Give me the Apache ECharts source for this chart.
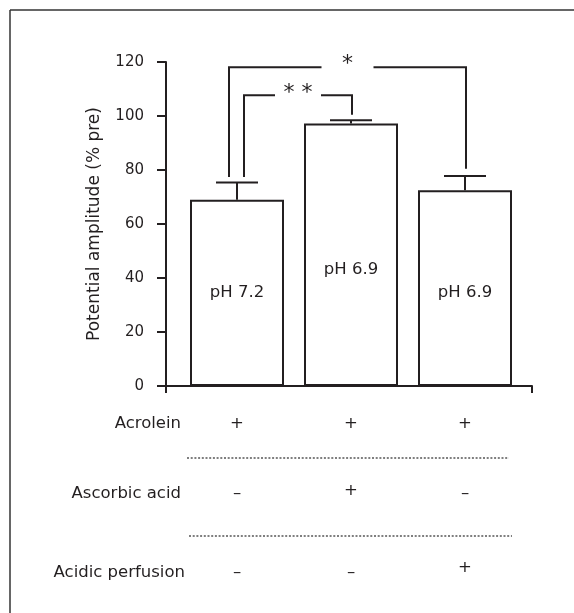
<!DOCTYPE html>
<html>
<head>
<meta charset="utf-8">
<script src="https://cdn.jsdelivr.net/npm/echarts@6/dist/echarts.min.js"></script>
<style>
html,body{margin:0;padding:0;background:#fff;}
#chart{width:574px;height:613px;}
</style>
</head>
<body>
<div id="chart"></div>
<script>
// ---- data ----
const categories = ['Group 1', 'Group 2', 'Group 3'];
const barValues = [69.0, 97.2, 72.5];
const errUpper = [75.4, 98.4, 77.8];
const barLabels = ['pH 7.2', 'pH 6.9', 'pH 6.9'];
const yMin = 0, yMax = 120, yStep = 20;
const yAxisName = 'Potential amplitude (% pre)';

const rowNames = ['Acrolein', 'Ascorbic acid', 'Acidic perfusion'];
const acroleinRow = ['+', '+', '+'];
const ascorbicRow = ['–', '+', '–'];
const acidicRow = ['–', '–', '+'];

const bracketFrom = [0, 0];
const bracketTo = [2, 1];
const bracketY = [118.1, 107.7];
const bracketLeftEnd = [77.4, 77.4];
const bracketRightEnd = [80.5, 100.5];
const bracketMarks = ['*', '* *'];

// ---- style / layout ----
const INK = '#231f20';
const FONT = 'DejaVu Sans';
const gridTop = 62, gridH = 324;
const barLabelOffsets = [[0, 0], [0, 15], [0, 5]];
const capHalf = 21;
const bracketLeftDx = [-8, 7];
const bracketRightDx = [1, 1];
const bracketGapHalf = [26, 23];
const markDy = [-3, -2];
const rowY = [424, 494, 573];
const plusDy = [0, -3, -5];
const rowLabelX = [181, 181, 185];
const dottedY = [458, 536];

const rows = [acroleinRow, ascorbicRow, acidicRow];

const chart = echarts.init(document.getElementById('chart'), null, {renderer: 'canvas'});

const option = {
  backgroundColor: '#fff',
  animation: false,
  grid: [
    {left: 180, width: 342, top: gridTop, height: gridH},
    {left: 166, width: 366, top: gridTop, height: gridH}
  ],
  xAxis: [
    {type: 'category', gridIndex: 0, data: categories, show: false},
    {type: 'value', gridIndex: 1, min: 0, max: 1, interval: 1,
     axisLine: {show: true, onZero: false, lineStyle: {color: INK, width: 2}},
     axisTick: {show: true, length: 7, lineStyle: {color: INK, width: 2}},
     axisLabel: {show: false}, splitLine: {show: false}}
  ],
  yAxis: [
    {type: 'value', gridIndex: 0, min: yMin, max: yMax, show: false},
    {type: 'value', gridIndex: 1, min: yMin, max: yMax, interval: yStep,
     name: yAxisName, nameLocation: 'middle', nameGap: 71,
     nameTextStyle: {fontFamily: FONT, fontSize: 17, color: INK, verticalAlign: 'middle'},
     axisLine: {show: true, onZero: false, lineStyle: {color: INK, width: 2}},
     axisTick: {show: true, length: 9, lineStyle: {color: INK, width: 2}},
     axisLabel: {margin: 22, fontFamily: FONT, fontSize: 15, color: INK},
     splitLine: {show: false}}
  ],
  graphic: [
    {type: 'line', shape: {x1: 10, y1: 10, x2: 574, y2: 10}, style: {stroke: '#333', lineWidth: 1.5}},
    {type: 'line', shape: {x1: 10, y1: 10, x2: 10, y2: 613}, style: {stroke: '#333', lineWidth: 1.5}},
    {type: 'line', shape: {x1: 187, y1: dottedY[0], x2: 509, y2: dottedY[0]}, style: {stroke: '#555', lineWidth: 1.5, lineDash: [2, 1.7]}},
    {type: 'line', shape: {x1: 189, y1: dottedY[1], x2: 512, y2: dottedY[1]}, style: {stroke: '#555', lineWidth: 1.5, lineDash: [2, 1.7]}}
  ].concat(rowNames.map((n, i) => ({
    type: 'text', x: rowLabelX[i], y: rowY[i],
    style: {text: n, align: 'right', verticalAlign: 'middle', fontFamily: FONT, fontSize: 16.5, fill: INK}
  }))),
  series: [
    {
      type: 'bar', xAxisIndex: 0, yAxisIndex: 0, barWidth: 94,
      itemStyle: {color: '#fff', borderColor: INK, borderWidth: 2},
      data: barValues.map((v, i) => ({
        value: v,
        label: {show: true, position: 'inside', formatter: barLabels[i], offset: barLabelOffsets[i],
                fontFamily: FONT, fontSize: 16.5, color: INK}
      })),
      z: 2
    },
    {
      type: 'custom', xAxisIndex: 0, yAxisIndex: 0, clip: false, z: 3,
      data: barValues.map((v, i) => [i, v, errUpper[i]]),
      renderItem: function (params, api) {
        const i = api.value(0);
        const p0 = api.coord([i, api.value(1)]);
        const p1 = api.coord([i, api.value(2)]);
        const s = {stroke: INK, lineWidth: 2};
        return {type: 'group', children: [
          {type: 'line', shape: {x1: p0[0], y1: p0[1], x2: p1[0], y2: p1[1]}, style: s},
          {type: 'line', shape: {x1: p1[0] - capHalf, y1: p1[1], x2: p1[0] + capHalf, y2: p1[1]}, style: s}
        ]};
      }
    },
    {
      type: 'custom', xAxisIndex: 0, yAxisIndex: 0, clip: false, z: 4,
      data: bracketFrom.map((f, k) => [f, bracketTo[k], bracketY[k], bracketLeftEnd[k], bracketRightEnd[k], k]),
      renderItem: function (params, api) {
        const k = api.value(5);
        const top = api.coord([api.value(0), api.value(2)]);
        const xl = api.coord([api.value(0), 0])[0] + bracketLeftDx[k];
        const xr = api.coord([api.value(1), 0])[0] + bracketRightDx[k];
        const yTop = top[1];
        const yl = api.coord([api.value(0), api.value(3)])[1];
        const yr = api.coord([api.value(1), api.value(4)])[1];
        const xm = (xl + xr) / 2;
        const g = bracketGapHalf[k];
        const s = {stroke: INK, lineWidth: 2, fill: null};
        return {type: 'group', children: [
          {type: 'polyline', shape: {points: [[xl, yl], [xl, yTop], [xm - g, yTop]]}, style: s},
          {type: 'polyline', shape: {points: [[xm + g, yTop], [xr, yTop], [xr, yr]]}, style: s},
          {type: 'text', x: xm, y: yTop + markDy[k], style: {text: bracketMarks[k], align: 'center', verticalAlign: 'middle',
            fontFamily: FONT, fontSize: 22, fill: INK}}
        ]};
      }
    },
    {
      type: 'custom', xAxisIndex: 0, yAxisIndex: 0, clip: false, z: 4,
      data: categories.map((c, i) => [i, 0]),
      renderItem: function (params, api) {
        const i = api.value(0);
        const x = api.coord([i, 0])[0];
        return {type: 'group', children: rows.map((r, ri) => ({
          type: 'text', x: x, y: rowY[ri] + (r[i] === '+' ? plusDy[ri] : 0),
          style: {text: r[i], align: 'center', verticalAlign: 'middle', fontFamily: FONT, fontSize: 16.5, fill: INK}
        }))};
      }
    }
  ]
};
chart.setOption(option);
</script>
</body>
</html>
